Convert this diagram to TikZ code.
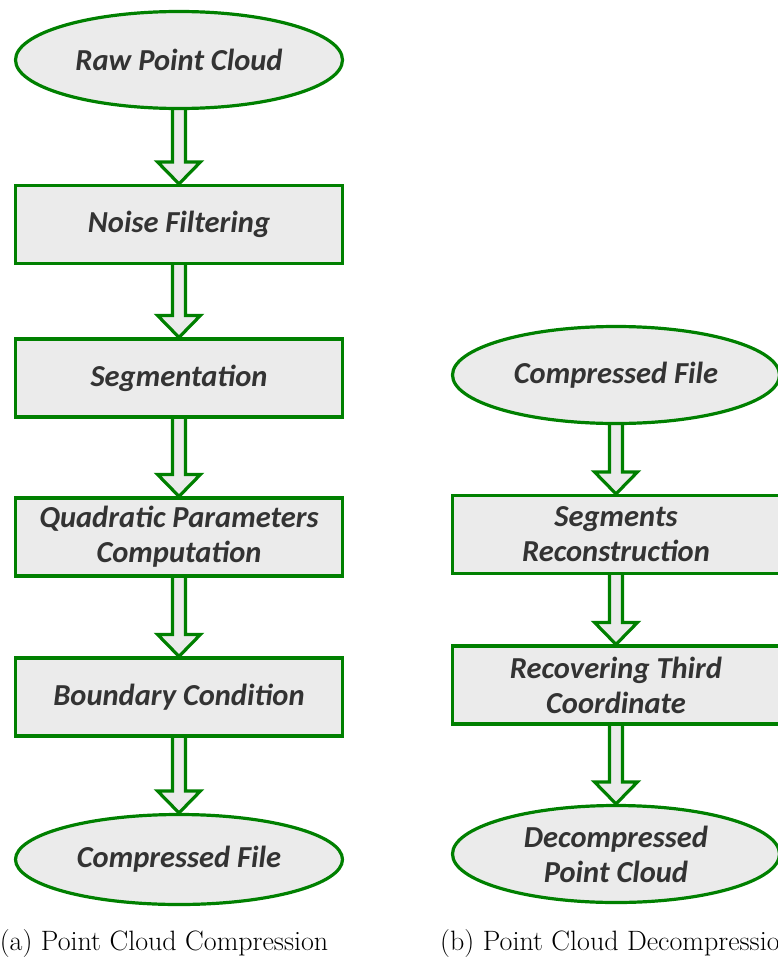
\documentclass[tikz,border=0pt]{standalone}
\usepackage{fontspec}
\newfontfamily\boxfont{Carlito}
\usetikzlibrary{shapes.geometric,calc}
\pgfdeclarelayer{background}
\pgfsetlayers{background,main}
\definecolor{fgreen}{RGB}{0,128,0}
\definecolor{fgray}{RGB}{235,235,235}
\definecolor{ftext}{RGB}{51,51,51}
\tikzset{
  base/.style={draw=fgreen, fill=fgray, line width=3.2pt, text=ftext,
    font=\boxfont\bfseries\itshape\fontsize{30.5}{35}\selectfont, align=center, inner sep=0pt},
  stepbox/.style={base, rectangle, minimum width=327pt, minimum height=78pt},
  terminal/.style={base, ellipse, minimum width=327pt},
  blockarrow/.style={draw=fgreen, fill=fgray, line width=3.2pt, line join=miter},
  caption/.style={font=\fontsize{28}{32}\selectfont, inner sep=0pt, anchor=base}
}
\newcommand\flowarrow[2]{%
  \begin{pgfonlayer}{background}
  \path[blockarrow] let \p1=(#1.south), \p2=(#2.north) in
    (\x1-6.5pt,\y1+6pt) -- (\x1-6.5pt,\y2+22pt) -- (\x1-21.5pt,\y2+22pt) -- (\x1,\y2)
    -- (\x1+21.5pt,\y2+22pt) -- (\x1+6.5pt,\y2+22pt) -- (\x1+6.5pt,\y1+6pt);
  \end{pgfonlayer}}
\begin{document}
\begin{tikzpicture}[x=1pt,y=-1pt]
\useasboundingbox (0,0) rectangle (778,958);
% left column
\node[terminal, minimum height=97pt] (raw) at (179,60) {Raw Point Cloud};
\node[stepbox] (noise) at (179,224.5) {Noise Filtering};
\node[stepbox] (seg) at (179,378) {Segmentation};
\node[stepbox] (quad) at (179,537) {Quadratic Parameters\\Computation};
\node[stepbox] (bound) at (179,697) {Boundary Condition};
\node[terminal, minimum height=90pt] (cfile) at (179,859.5) {Compressed File};
\flowarrow{raw}{noise}
\flowarrow{noise}{seg}
\flowarrow{seg}{quad}
\flowarrow{quad}{bound}
\flowarrow{bound}{cfile}
% right column
\node[terminal, minimum height=97pt] (cfile2) at (616,375) {Compressed File};
\node[stepbox] (segrec) at (616,534.5) {Segments\\Reconstruction};
\node[stepbox] (third) at (616,685) {Recovering Third\\Coordinate};
\node[terminal, minimum height=97pt] (decomp) at (616,854) {Decompressed\\Point Cloud};
\flowarrow{cfile2}{segrec}
\flowarrow{segrec}{third}
\flowarrow{third}{decomp}
% captions
\node[caption] (capa) at (164,950) {(a) Point Cloud Compression};
\node[caption, anchor=base west] (capb) at (440,950) {(b) Point Cloud Decompression};
\end{tikzpicture}
\end{document}
